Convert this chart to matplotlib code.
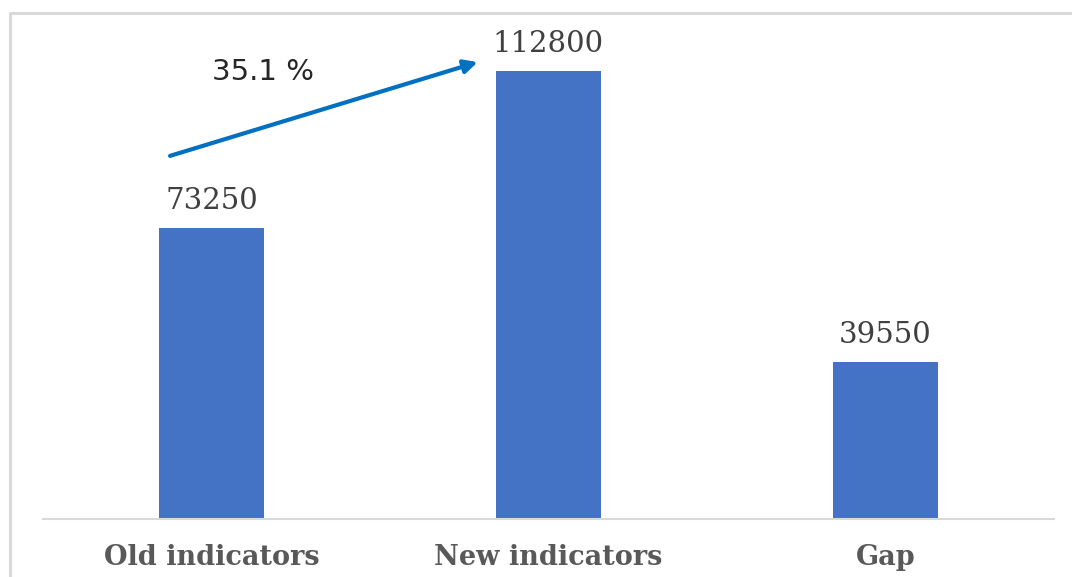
import matplotlib.pyplot as plt
from matplotlib.lines import Line2D

categories = ['Old indicators', 'New indicators', 'Gap']
values = [73250, 112800, 39550]
growth_label = '35.1 %'

W, H = 1072, 577
fig = plt.figure(figsize=(W / 100, H / 100), dpi=100)

# chart area border (left and top edges only)
fig.add_artist(Line2D([10 / W, 10 / W, 1.0], [0.0, 1 - 13 / H, 1 - 13 / H],
                      transform=fig.transFigure, color='#d9d9d9', lw=2.2))

ax = fig.add_axes([43 / W, 1 - 519 / H, 1011 / W, (519 - 20) / H])
x = range(len(categories))
bars = ax.bar(x, values, width=0.313, color='#4472c4', zorder=2)

ax.set_xlim(-0.5, 2.5)
ax.set_ylim(0, 125600)
ax.set_yticks([])
ax.set_xticks(list(x))
ax.set_xticklabels(categories, fontfamily='DejaVu Serif', fontweight='bold',
                   fontsize=19.5, color='#595959')
ax.tick_params(axis='x', length=0, pad=18)
for side in ['top', 'right', 'left']:
    ax.spines[side].set_visible(False)
ax.spines['bottom'].set_color('#d9d9d9')
ax.spines['bottom'].set_linewidth(1.5)

for xi, v in zip(x, values):
    ax.annotate(f'{v}', (xi, v), xytext=(0, 9), textcoords='offset points',
                ha='center', va='bottom', fontfamily='DejaVu Serif',
                fontsize=21, color='#404040')

# growth arrow from old to new
ax.annotate('', xy=(0.79, 115000), xytext=(-0.123, 91400),
            arrowprops=dict(arrowstyle='-|>', color='#0070c0', lw=3,
                            mutation_scale=20, shrinkA=0, shrinkB=0))
ax.text(0.154, 112600, growth_label, ha='center', va='center',
        fontfamily='DejaVu Sans', fontsize=21, color='#262626')

fig.savefig('out.png', dpi=100, facecolor='white')
